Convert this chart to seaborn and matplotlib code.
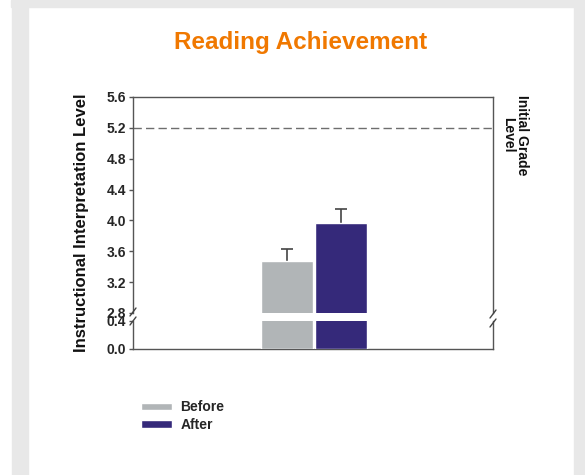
import matplotlib
matplotlib.use("Agg")
import matplotlib.pyplot as plt
import matplotlib.patches as mpatches
import seaborn as sns
import pandas as pd

# data
periods = ["Before", "After"]
scores = [3.48, 3.97]
errors = [0.155, 0.18]
grade_level = 5.2
top_ticks = [2.8, 3.2, 3.6, 4.0, 4.4, 4.8, 5.2, 5.6]
bottom_ticks = [0.0, 0.4]

colors = {"Before": "#b1b5b7", "After": "#35297a"}

sns.set_theme(style="white")
plt.rcParams["font.family"] = ["Liberation Sans", "DejaVu Sans"]

df = pd.DataFrame({"group": ["Reading"] * len(periods), "period": periods, "score": scores})

W, H = 585, 475
fig = plt.figure(figsize=(W / 100, H / 100), dpi=100, facecolor="white")

# grey frame around the white panel
for (x0, y0, w, h) in [(11, 0, W - 11, 7), (12, 0, 16, H), (574, 0, W - 574, H)]:
    fig.patches.append(mpatches.Rectangle((x0 / W, 1 - (y0 + h) / H), w / W, h / H,
                                          transform=fig.transFigure, color="#e8e8e8", zorder=0))

left, right = 133, 493
ax_top = fig.add_axes([left / W, 1 - 313 / H, (right - left) / W, (313 - 97) / H])
ax_bot = fig.add_axes([left / W, 1 - 349 / H, (right - left) / W, (349 - 321) / H])

for ax in (ax_top, ax_bot):
    sns.barplot(data=df, x="group", y="score", hue="period", palette=colors,
                errorbar=None, gap=0.03, saturation=1, ax=ax, zorder=3)
    ax.set_xlim(-1.336, 1.321)
    ax.set_xlabel("")
    ax.set_ylabel("")
    ax.set_xticks([])
    ax.set_facecolor("none")
    for s in ax.spines.values():
        s.set_color("#555555")
        s.set_linewidth(1.0)
    ax.tick_params(axis="y", left=True, length=3, width=1, color="#555555", pad=2,
                   labelsize=10)

handles, labels = ax_top.get_legend_handles_labels()
ax_top.get_legend().remove()
ax_bot.get_legend().remove()

ax_top.set_ylim(2.8, 5.6)
ax_top.set_yticks(top_ticks)
ax_top.set_yticklabels([f"{t:.1f}" for t in top_ticks], fontweight="bold", fontsize=10)
ax_top.spines["bottom"].set_visible(False)
ax_bot.set_ylim(0, 0.4)
ax_bot.set_yticks(bottom_ticks)
ax_bot.set_yticklabels([f"{t:.1f}" for t in bottom_ticks], fontweight="bold", fontsize=10)
ax_bot.spines["top"].set_visible(False)

# error bars drawn behind the bars, so only the upper half shows
xs = [c[0].get_x() + c[0].get_width() / 2 for c in ax_top.containers]
ax_top.errorbar(xs, scores, yerr=errors, fmt="none",
                ecolor="#444444", elinewidth=1.2, capsize=4, capthick=1.2, zorder=2)

# initial grade level reference line
ax_top.axhline(grade_level, color="#6e6e6e", linestyle=(0, (6, 3)), linewidth=1, zorder=1)

# axis break marks
for xp, yp in [(left, 312), (left, 321), (right, 314), (right, 323)]:
    fig.add_artist(plt.Line2D([(xp - 3) / W, (xp + 3) / W], [1 - (yp + 4) / H, 1 - (yp - 4) / H],
                              transform=fig.transFigure, color="#444444", linewidth=1))

fig.text(301 / W, 1 - 42 / H, "Reading Achievement", ha="center", va="center",
         fontsize=17.5, fontweight="bold", color="#f07800")
fig.text(82 / W, 1 - 223 / H, "Instructional Interpretation Level", rotation=90,
         ha="center", va="center", fontsize=12, fontweight="bold", color="#111111")
fig.text(515 / W, 1 - 95 / H, "Initial Grade\nLevel", rotation=270, ha="center", va="top",
         multialignment="center", fontsize=10, fontweight="bold", color="#111111",
         linespacing=1.0)

fig.legend(handles, labels, loc="center left", bbox_to_anchor=(141 / W, 1 - 416 / H),
           frameon=False, handlelength=2.2, handleheight=0.45, handletextpad=0.65,
           borderpad=0, borderaxespad=0, labelspacing=0.25,
           prop={"weight": "bold", "size": 10})

fig.savefig("out.png", dpi=100, facecolor="white")
